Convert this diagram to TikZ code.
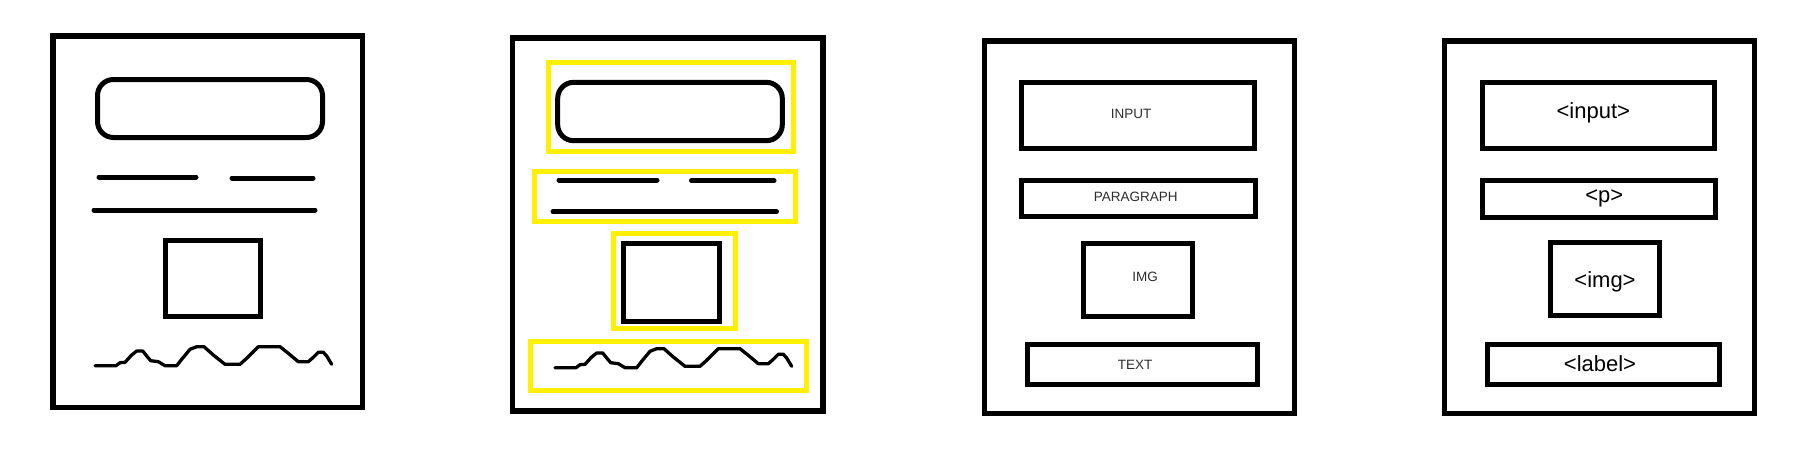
\documentclass[tikz,border=0pt]{standalone}
\usepackage{fontspec}
\setmainfont{Liberation Sans}
\usetikzlibrary{fit}
\definecolor{hlyellow}{RGB}{255,240,0}
\definecolor{txtgray}{RGB}{45,45,45}
\tikzset{
  frame/.style={draw=black, line width=5.4pt, inner sep=0pt},
  boxel/.style={draw=black, line width=5pt, inner sep=0pt},
  roundel/.style={draw=black, line width=5pt, inner sep=0pt, rounded corners=16pt},
  hlbox/.style={draw=hlyellow, line width=5pt, inner sep=0pt},
  textline/.style={draw=black, line width=5pt, line cap=round},
  squig/.style={draw=black, line width=3.3pt, line join=round, line cap=round},
  captxt/.style={text=txtgray, font=\fontsize{13.5}{15}\selectfont, inner sep=0pt},
  tagtxt/.style={text=black, font=\fontsize{22}{24}\selectfont, inner sep=0pt},
}
\newcommand{\squigpath}{(95,365.7) -- (116,365.7) -- (120,362.7) -- (125,362.3) -- (131.7,355) -- (136.7,351) -- (142.7,351) -- (146.7,356) -- (150.7,360.7) -- (158.3,361.7) -- (165,365.7) -- (176.7,365.7) -- (181.7,359.3) -- (190,349.3) -- (196.7,346.7) -- (204,346.7) -- (213.3,355) -- (225,364.3) -- (240,364.3) -- (246.7,358.3) -- (258.3,346.7) -- (280,346.7) -- (288.3,353.3) -- (298.3,361.7) -- (308.3,361.7) -- (313.3,357.3) -- (318.3,352.3) -- (323.3,352.3) -- (326.7,356) -- (331.7,364.3)}
\begin{document}
\begin{tikzpicture}[x=1pt,y=-1pt]
\useasboundingbox (0,0) rectangle (1806,448);
\fill[white] (0,0) rectangle (1806,448);

% ---------- Panel 1 ----------
\node[frame, fit={(53,36) (362.5,407.5)}] (f1) {};
\node[roundel, fit={(97.5,79.5) (322.5,137.5)}] (r1) {};
\coordinate (a1s) at (99,177); \coordinate (a1e) at (196,177);
\coordinate (b1s) at (232,178); \coordinate (b1e) at (313,178);
\coordinate (c1s) at (94,210); \coordinate (c1e) at (315,210);
\draw[textline] (a1s) -- (a1e);
\draw[textline] (b1s) -- (b1e);
\draw[textline] (c1s) -- (c1e);
\node[boxel, fit={(165.7,240.7) (260,316.7)}] (s1) {};
\draw[squig] \squigpath;

% ---------- Panel 2 ----------
\node[frame, fit={(512.5,38) (823,411)}] (f2) {};
\node[hlbox, fit={(548.3,62.7) (793.3,151)}] (y1) {};
\node[roundel, fit={(557.7,82.3) (782.3,140.7)}] (r2) {};
\node[hlbox, fit={(534,171.7) (795,221.7)}] (y2) {};
\coordinate (a2s) at (559,180); \coordinate (a2e) at (657,180);
\coordinate (b2s) at (691.5,180.7); \coordinate (b2e) at (774,180.7);
\coordinate (c2s) at (553,211.7); \coordinate (c2e) at (776.5,211.7);
\draw[textline] (a2s) -- (a2e);
\draw[textline] (b2s) -- (b2e);
\draw[textline] (c2s) -- (c2e);
\node[hlbox, fit={(613.3,233.3) (735.7,328.3)}] (y3) {};
\node[boxel, fit={(623.3,243.3) (719,321.3)}] (s2) {};
\node[hlbox, fit={(530.7,341.7) (806,390.3)}] (y4) {};
\begin{scope}[shift={(460,2)}]
\draw[squig] \squigpath;
\end{scope}

% ---------- Panel 3 ----------
\node[frame, fit={(984.3,41) (1294.3,413.3)}] (f3) {};
\node[boxel, fit={(1021,82.7) (1254,148)}] (in3) {};
\node[captxt] (in3t) at (1131,114.3) {INPUT};
\node[boxel, fit={(1021,180) (1255.7,216.7)}] (p3) {};
\node[captxt] (p3t) at (1135.7,197.3) {PARAGRAPH};
\node[boxel, fit={(1083.3,243.3) (1192.3,316.7)}] (im3) {};
\node[captxt] (im3t) at (1145,276.7) {IMG};
\node[boxel, fit={(1027.7,344.3) (1257.3,384)}] (t3) {};
\node[captxt] (t3t) at (1135,365) {TEXT};

% ---------- Panel 4 ----------
\node[frame, fit={(1444.3,41) (1754.3,413.3)}] (f4) {};
\node[boxel, fit={(1482,82.7) (1714,148)}] (in4) {};
\node[tagtxt] (in4t) at (1593.3,113.3) {<input>};
\node[boxel, fit={(1482,180) (1715.7,217.3)}] (p4) {};
\node[tagtxt] (p4t) at (1604.3,198.3) {<p>};
\node[boxel, fit={(1550,242.7) (1659,315.7)}] (im4) {};
\node[tagtxt] (im4t) at (1605,281.7) {<img>};
\node[boxel, fit={(1487.7,344.3) (1719,384)}] (l4) {};
\node[tagtxt] (l4t) at (1600,363.3) {<label>};
\end{tikzpicture}
\end{document}
